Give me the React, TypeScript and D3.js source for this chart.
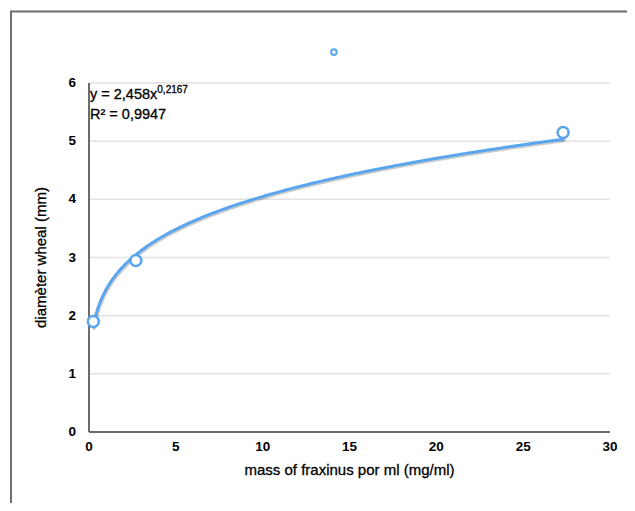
import React, { useEffect, useRef } from 'react';
import * as d3 from 'd3';

const pointsX = [0.25, 2.7, 27.3];
const pointsY = [1.9, 2.95, 5.15];
const strayX = [14.1];
const strayY = [6.53];
const xTicks = [0, 5, 10, 15, 20, 25, 30];
const yTicks = [0, 1, 2, 3, 4, 5, 6];
const fitA = 2.458;
const fitB = 0.2167;
const fitRange = [0.24, 27.3];

function App() {
  const ref = useRef<SVGSVGElement>(null);

  useEffect(() => {
    const width = 635;
    const height = 511;
    const margin = { top: 83, right: 25, bottom: 79, left: 89 };
    const font = 'Liberation Sans, Arial, sans-serif';

    const svg = d3.select(ref.current);
    svg.selectAll('*').remove();
    svg.attr('width', width).attr('height', height);

    svg.append('rect').attr('width', width).attr('height', height).attr('fill', '#fff');

    // frame: top and left only
    svg.append('path')
      .attr('d', `M11,${height} V11.5 H${width}`)
      .attr('fill', 'none')
      .attr('stroke', '#6e6e6e')
      .attr('stroke-width', 2);

    const x = d3.scaleLinear().domain([0, 30]).range([margin.left, width - margin.right]);
    const y = d3.scaleLinear().domain([0, 6]).range([height - margin.bottom, margin.top]);

    const g = svg.append('g');

    // grid
    g.selectAll('.grid')
      .data(yTicks.filter(d => d > 0))
      .join('line')
      .attr('class', 'grid')
      .attr('x1', x(0)).attr('x2', x(30))
      .attr('y1', d => y(d)).attr('y2', d => y(d))
      .attr('stroke', '#e2e2e2')
      .attr('stroke-width', 1.5);

    // axes lines
    g.append('line')
      .attr('x1', x(0)).attr('x2', x(30))
      .attr('y1', y(0)).attr('y2', y(0))
      .attr('stroke', '#6b6b6b').attr('stroke-width', 2);
    g.append('line')
      .attr('x1', x(0)).attr('x2', x(0))
      .attr('y1', y(0)).attr('y2', y(6))
      .attr('stroke', '#6b6b6b').attr('stroke-width', 2);

    // tick labels
    g.selectAll('.xt')
      .data(xTicks)
      .join('text')
      .attr('class', 'xt')
      .attr('x', d => x(d))
      .attr('y', y(0) + 19)
      .attr('text-anchor', 'middle')
      .attr('font-family', font)
      .attr('font-weight', 'bold')
      .attr('font-size', 13.5)
      .text(d => d);

    g.selectAll('.yt')
      .data(yTicks)
      .join('text')
      .attr('class', 'yt')
      .attr('x', x(0) - 13)
      .attr('y', d => y(d) + 4)
      .attr('text-anchor', 'end')
      .attr('font-family', font)
      .attr('font-weight', 'bold')
      .attr('font-size', 13.5)
      .text(d => d);

    // titles
    svg.append('text')
      .attr('x', (x(0) + x(30)) / 2)
      .attr('y', y(0) + 43)
      .attr('text-anchor', 'middle')
      .attr('font-family', font)
      .attr('font-size', 15)
      .attr('stroke', '#000')
      .attr('stroke-width', 0.3)
      .text('mass of fraxinus por ml (mg/ml)');

    svg.append('text')
      .attr('transform', `translate(46,${(y(0) + y(6)) / 2}) rotate(-90)`)
      .attr('text-anchor', 'middle')
      .attr('font-family', font)
      .attr('font-size', 15)
      .attr('stroke', '#000')
      .attr('stroke-width', 0.3)
      .text('diamèter wheal (mm)');

    // fit curve
    const fitX = d3.range(fitRange[0], fitRange[1], 0.05).concat([fitRange[1]]);
    const line = d3.line<number>()
      .x(d => x(d))
      .y(d => y(fitA * Math.pow(d, fitB)))
      .curve(d3.curveLinear);

    g.append('path')
      .datum(fitX)
      .attr('d', line)
      .attr('fill', 'none')
      .attr('stroke', 'rgba(0,0,0,0.2)')
      .attr('stroke-width', 3)
      .attr('stroke-linecap', 'round')
      .attr('transform', 'translate(1,1.5)');
    g.append('path')
      .datum(fitX)
      .attr('d', line)
      .attr('fill', 'none')
      .attr('stroke', '#5aa5f0')
      .attr('stroke-linecap', 'round')
      .attr('stroke-width', 3);

    // points
    g.selectAll('.pt')
      .data(pointsX.map((d, i) => [d, pointsY[i]]))
      .join('circle')
      .attr('class', 'pt')
      .attr('cx', d => x(d[0]))
      .attr('cy', d => y(d[1]))
      .attr('r', 5.5)
      .attr('fill', '#fff')
      .attr('stroke', '#5aa5f0')
      .attr('stroke-width', 2.5);

    g.selectAll('.stray')
      .data(strayX.map((d, i) => [d, strayY[i]]))
      .join('circle')
      .attr('class', 'stray')
      .attr('cx', d => x(d[0]))
      .attr('cy', d => y(d[1]))
      .attr('r', 2.8)
      .attr('fill', '#fff')
      .attr('stroke', '#5aa5f0')
      .attr('stroke-width', 2);

    // equation
    const eq = svg.append('text')
      .attr('x', x(0) + 1)
      .attr('y', y(6) + 16)
      .attr('font-family', font)
      .attr('font-size', 14.5)
      .attr('stroke', '#000')
      .attr('stroke-width', 0.3);
    eq.append('tspan').text('y = 2,458x');
    eq.append('tspan').attr('font-size', 10).attr('dy', -6).text('0,2167');

    svg.append('text')
      .attr('x', x(0) + 1)
      .attr('y', y(6) + 36)
      .attr('font-family', font)
      .attr('font-size', 14.5)
      .attr('stroke', '#000')
      .attr('stroke-width', 0.3)
      .text('R² = 0,9947');
  }, []);

  return (
    <div style={{ margin: -8 }}>
      <svg ref={ref} style={{ display: 'block' }} />
    </div>
  );
}

export default App;
